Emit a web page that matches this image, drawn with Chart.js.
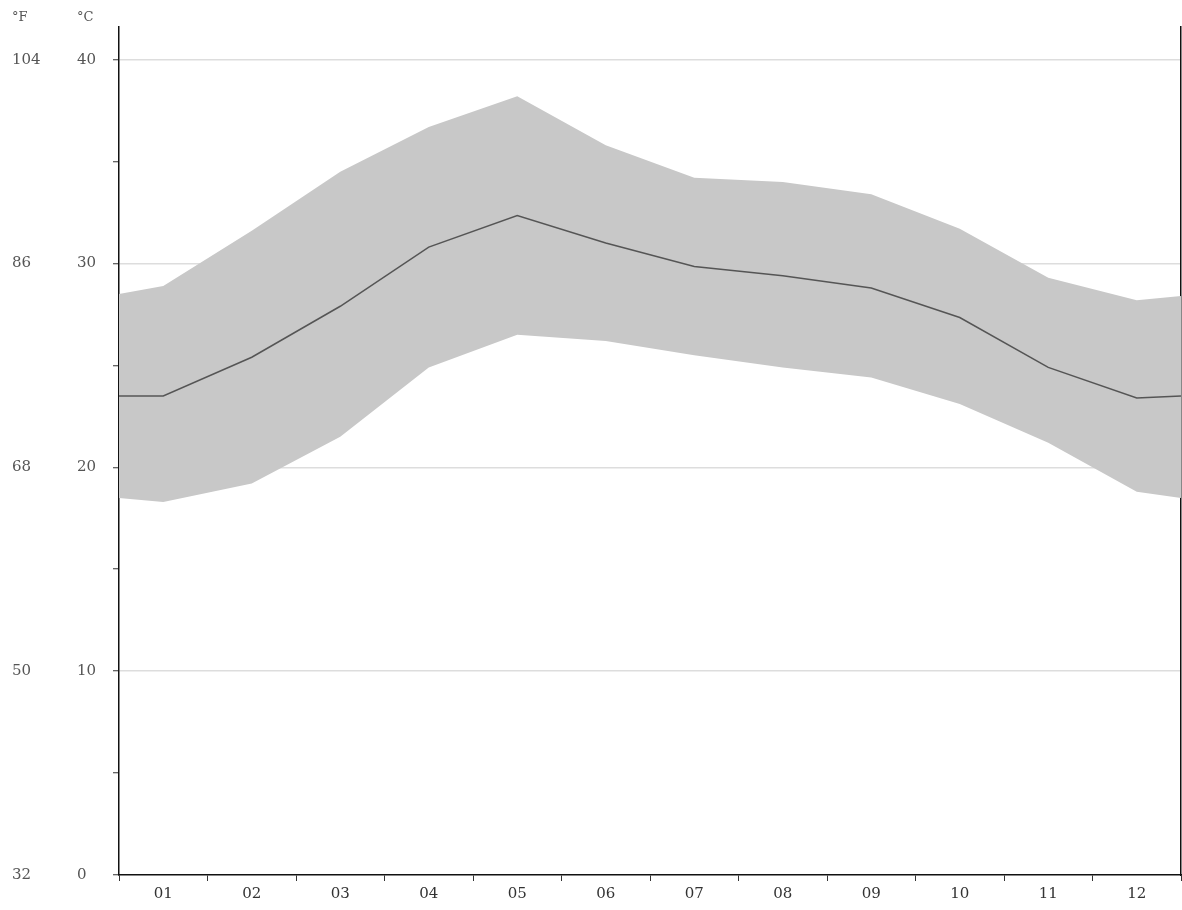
<!DOCTYPE html>
<html>
<head>
<meta charset="utf-8">
<script src="https://cdn.jsdelivr.net/npm/chart.js@4/dist/chart.umd.min.js"></script>
<style>
  html, body { margin: 0; padding: 0; background: #ffffff; }
  canvas { display: block; }
</style>
</head>
<body>
<canvas id="c" width="1182" height="910"></canvas>
<script>
// ---- data ----
const monthLabels = ['01','02','03','04','05','06','07','08','09','10','11','12'];
const meanTemp = [23.5, 25.4, 27.9, 30.8, 32.35, 31.0, 29.85, 29.4, 28.8, 27.35, 24.9, 23.4];
const maxTemp  = [28.9, 31.6, 34.5, 36.7, 38.2, 35.8, 34.2, 34.0, 33.4, 31.7, 29.3, 28.2];
const minTemp  = [18.3, 19.2, 21.5, 24.9, 26.5, 26.2, 25.5, 24.9, 24.4, 23.1, 21.2, 18.8];
// values at the left and right edges of the plot (half a month outside Jan / Dec)
const meanEdges = [23.5, 23.5];
const maxEdges  = [28.5, 28.4];
const minEdges  = [18.5, 18.5];
const celsiusTicks = [0, 10, 20, 30, 40];
const celsiusMinorTicks = [0, 5, 10, 15, 20, 25, 30, 35, 40];
const fahrenheitLabels = ['32', '50', '68', '86', '104'];
const axisHeaders = ['°F', '°C'];

function series(vals, edges) {
  const pts = [{ x: 0.5, y: edges[0] }];
  vals.forEach((v, i) => pts.push({ x: i + 1, y: v }));
  pts.push({ x: monthLabels.length + 0.5, y: edges[1] });
  return pts;
}

const FONT = '"DejaVu Serif", serif';
const Y_MAX = 41.6;

const headerPlugin = {
  id: 'headers',
  afterDraw(chart) {
    const ctx = chart.ctx;
    ctx.save();
    ctx.font = '13px ' + FONT;
    ctx.fillStyle = '#555';
    ctx.textBaseline = 'middle';
    ctx.textAlign = 'left';
    ctx.fillText(axisHeaders[0], chart.scales.yF.left, 18);
    ctx.fillText(axisHeaders[1], chart.scales.y.left, 18);
    ctx.restore();
  }
};

new Chart(document.getElementById('c'), {
  type: 'line',
  data: {
    datasets: [
      {
        label: 'mean',
        data: series(meanTemp, meanEdges),
        borderColor: '#555555',
        borderWidth: 1.5,
        pointRadius: 0,
        fill: false,
        tension: 0
      },
      {
        label: 'max',
        data: series(maxTemp, maxEdges),
        borderWidth: 0,
        borderColor: 'rgba(0,0,0,0)',
        backgroundColor: '#c8c8c8',
        pointRadius: 0,
        fill: '+1',
        tension: 0
      },
      {
        label: 'min',
        data: series(minTemp, minEdges),
        borderWidth: 0,
        borderColor: 'rgba(0,0,0,0)',
        backgroundColor: '#c8c8c8',
        pointRadius: 0,
        fill: false,
        tension: 0
      }
    ]
  },
  options: {
    responsive: false,
    animation: false,
    devicePixelRatio: 1,
    events: [],
    layout: { padding: { left: 12, top: 27, right: 0, bottom: 0 } },
    plugins: { legend: { display: false }, tooltip: { enabled: false } },
    scales: {
      x: {
        type: 'linear',
        min: 0.5,
        max: monthLabels.length + 0.5,
        afterBuildTicks: s => { s.ticks = monthLabels.map((m, i) => ({ value: i + 1 })); },
        afterFit: s => { s.height = 35; },
        ticks: {
          callback: (v, i) => monthLabels[i],
          color: '#333',
          font: { family: FONT, size: 15 },
          padding: 4,
          maxRotation: 0,
          autoSkip: false
        },
        grid: {
          offset: true,
          drawOnChartArea: false,
          tickLength: 6,
          tickColor: '#333',
          tickWidth: 1
        },
        border: { color: '#111', width: 1.5 }
      },
      y: {
        type: 'linear',
        position: 'left',
        weight: 0,
        min: 0,
        max: Y_MAX,
        afterBuildTicks: s => { s.ticks = celsiusMinorTicks.map(v => ({ value: v })); },
        afterFit: s => { s.width = 42; },
        ticks: {
          callback: v => celsiusTicks.includes(v) ? String(v) : '',
          crossAlign: 'far',
          color: '#555',
          font: { family: FONT, size: 15 },
          autoSkip: false
        },
        grid: {
          color: c => (c.tick && celsiusTicks.includes(c.tick.value) && c.tick.value > 0) ? '#dddddd' : 'rgba(0,0,0,0)',
          lineWidth: 1.5,
          tickColor: '#333',
          tickLength: 6,
          tickWidth: 1
        },
        border: { color: '#111', width: 1.5 }
      },
      yF: {
        type: 'linear',
        position: 'left',
        weight: 1,
        min: 0,
        max: Y_MAX,
        afterBuildTicks: s => { s.ticks = celsiusTicks.map(v => ({ value: v })); },
        afterFit: s => { s.width = 65; },
        ticks: {
          callback: (v, i) => fahrenheitLabels[i],
          crossAlign: 'far',
          color: '#555',
          font: { family: FONT, size: 15 },
          autoSkip: false
        },
        grid: { display: false, drawTicks: false },
        border: { display: false }
      },
      yR: {
        type: 'linear',
        position: 'right',
        min: 0,
        max: Y_MAX,
        afterFit: s => { s.width = 1; },
        ticks: { display: false },
        grid: { drawOnChartArea: false, drawTicks: false, color: 'rgba(0,0,0,0)' },
        border: { color: '#111', width: 1.5 }
      }
    }
  },
  plugins: [headerPlugin]
});
</script>
</body>
</html>
